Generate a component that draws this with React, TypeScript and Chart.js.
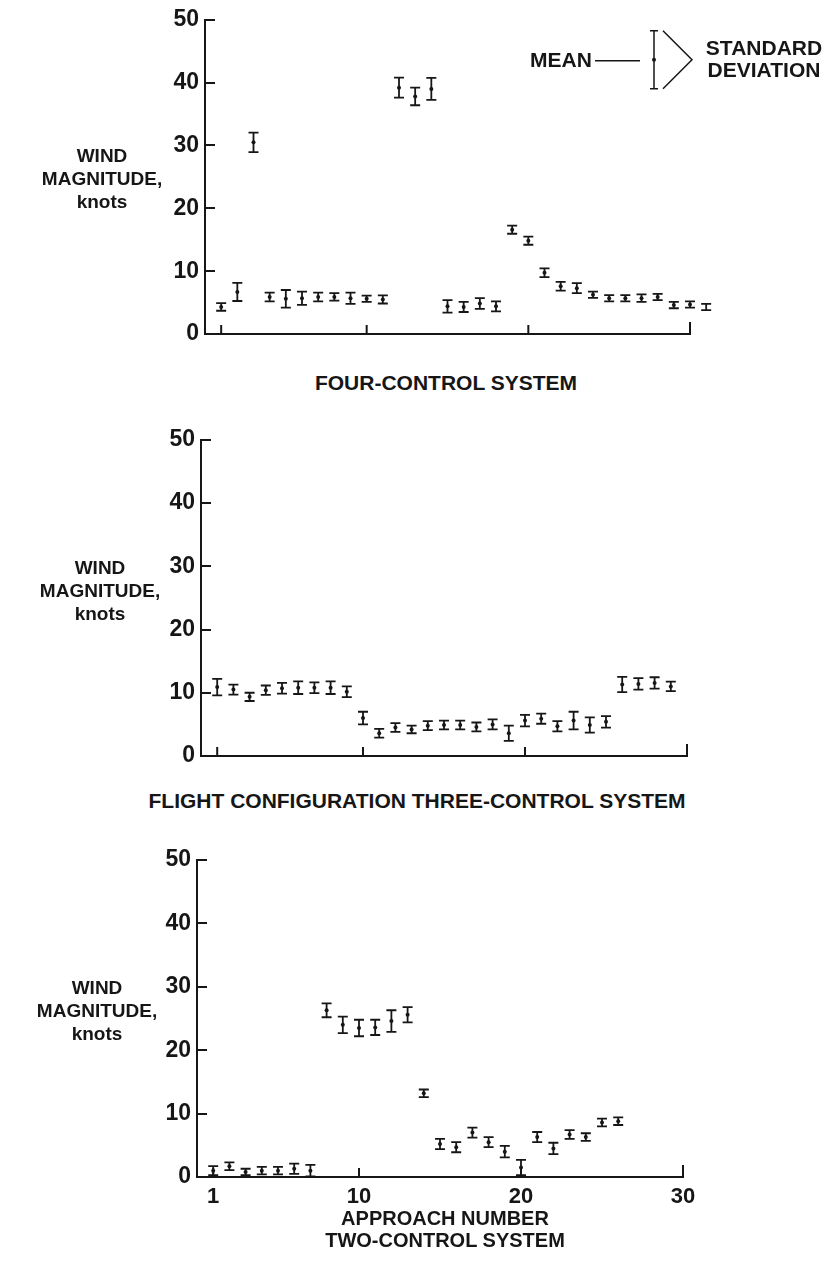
import React, { useEffect, useRef } from "react";
import { Chart, registerables } from "chart.js";

Chart.register(...registerables);

// ---------------- data ----------------
const fourApproach = [1,2,3,4,5,6,7,8,9,10,11,12,13,14,15,16,17,18,19,20,21,22,23,24,25,26,27,28,29,30,31];
const fourMean = [4.3,6.7,30.5,5.9,5.6,5.7,5.9,5.9,5.7,5.6,5.5,39.2,37.8,39.0,4.4,4.3,4.85,4.4,16.6,14.85,9.75,7.6,7.3,6.25,5.7,5.7,5.7,5.9,4.6,4.7,4.3];
const fourSd = [0.6,1.45,1.55,0.7,1.4,1.05,0.7,0.6,0.9,0.5,0.65,1.6,1.4,1.75,1.0,0.8,0.85,0.8,0.65,0.65,0.7,0.7,0.8,0.5,0.5,0.5,0.6,0.5,0.5,0.5,0.5];

const threeApproach = [1,2,3,4,5,6,7,8,9,10,11,12,13,14,15,16,17,18,19,20,21,22,23,24,25,26,27,28,29];
const threeMean = [10.9,10.5,9.35,10.4,10.7,10.8,10.8,10.8,10.15,6.0,3.6,4.5,4.2,4.8,4.9,4.9,4.6,5.0,3.6,5.6,5.9,4.7,5.6,4.9,5.4,11.3,11.4,11.55,11.0];
const threeSd = [1.3,0.8,0.65,0.75,0.85,1.0,0.85,1.0,0.85,1.0,0.7,0.7,0.6,0.7,0.7,0.7,0.7,0.8,1.2,0.9,0.8,0.8,1.4,1.2,0.9,1.2,0.9,0.9,0.75];

const twoApproach = [1,2,3,4,5,6,7,8,9,10,11,12,13,14,15,16,17,18,19,20,21,22,23,24,25,26];
const twoMean = [1.0,1.7,0.8,1.0,1.0,1.3,1.0,26.3,24.0,23.5,23.6,24.6,25.6,13.2,5.2,4.7,7.0,5.5,4.0,1.5,6.3,4.5,6.7,6.3,8.6,8.8];
const twoSd = [0.7,0.6,0.5,0.6,0.6,0.8,0.9,1.1,1.3,1.3,1.2,1.7,1.2,0.6,0.8,0.8,0.8,0.8,0.9,1.2,0.8,0.9,0.7,0.6,0.6,0.6];

const yTickValues = [0, 10, 20, 30, 40, 50];
const xTickValues = [1, 10, 20, 30];

const panelTitles = ["FOUR-CONTROL SYSTEM", "FLIGHT CONFIGURATION THREE-CONTROL SYSTEM", "TWO-CONTROL SYSTEM"];
const xAxisTitle = "APPROACH NUMBER";
const yAxisTitleLines = ["WIND", "MAGNITUDE,", "knots"];

// ---------------- styling ----------------
const INK = "#161616";
const FONT = "'Liberation Sans', Arial, Helvetica, sans-serif";
const W = 835;

type PanelSpec = {
  xs: number[];
  means: number[];
  sds: number[];
  top: number;
  height: number;
  areaLeft: number;
  areaRight: number;
  areaTop: number;
  areaBottom: number;
  showX: boolean;
  legend: boolean;
};

const errorBarPlugin = {
  id: "errorBars",
  afterDatasetsDraw(chart: any) {
    const ctx = chart.ctx;
    const xs = chart.scales.x;
    const ys = chart.scales.y;
    const area = chart.chartArea;
    const meta = chart.getDatasetMeta(0);
    const ds: any = chart.data.datasets[0];
    const sds: number[] = ds.sd;
    ctx.save();
    ctx.strokeStyle = INK;
    ctx.fillStyle = INK;
    ctx.lineWidth = 2;
    yTickValues.forEach((v) => {
      if (v === 0) return;
      const py = Math.round(ys.getPixelForValue(v));
      ctx.beginPath();
      ctx.moveTo(area.left, py);
      ctx.lineTo(area.left + 10, py);
      ctx.stroke();
    });
    xTickValues.forEach((v) => {
      const px = xs.getPixelForValue(v);
      ctx.beginPath();
      ctx.moveTo(px, area.bottom);
      ctx.lineTo(px, area.bottom - (v === 30 ? 12 : 9));
      ctx.stroke();
    });
    ctx.lineWidth = 1.8;
    meta.data.forEach((el: any, i: number) => {
      const raw = ds.data[i];
      const px = xs.getPixelForValue(raw.x);
      const hi = ys.getPixelForValue(raw.y + sds[i]);
      const lo = ys.getPixelForValue(raw.y - sds[i]);
      ctx.beginPath();
      ctx.moveTo(px, hi);
      ctx.lineTo(px, lo);
      ctx.moveTo(px - 5, hi);
      ctx.lineTo(px + 5, hi);
      ctx.moveTo(px - 5, lo);
      ctx.lineTo(px + 5, lo);
      ctx.stroke();
    });
    if (ds.legendGlyph) {
      const gx = area.right - 36;
      const cy = area.top + 40;
      ctx.lineWidth = 1.5;
      ctx.beginPath();
      ctx.moveTo(gx - 59, cy + 1);
      ctx.lineTo(gx - 14, cy + 1);
      ctx.moveTo(gx, cy - 29);
      ctx.lineTo(gx, cy + 29);
      ctx.moveTo(gx - 4, cy - 29);
      ctx.lineTo(gx + 4, cy - 29);
      ctx.moveTo(gx - 4, cy + 29);
      ctx.lineTo(gx + 4, cy + 29);
      ctx.moveTo(gx + 9, cy - 29);
      ctx.lineTo(gx + 38, cy);
      ctx.lineTo(gx + 9, cy + 29);
      ctx.stroke();
      ctx.beginPath();
      ctx.arc(gx, cy, 2, 0, Math.PI * 2);
      ctx.fill();
    }
    ctx.restore();
  },
};

function PanelChart({ spec }: { spec: PanelSpec }) {
  const ref = useRef<HTMLCanvasElement | null>(null);
  useEffect(() => {
    if (!ref.current) return;
    const canvasBottom = spec.top + spec.height;
    const chart = new Chart(ref.current, {
      type: "scatter",
      data: {
        datasets: [
          {
            data: spec.xs.map((x, i) => ({ x, y: spec.means[i] })),
            pointRadius: 2,
            pointBackgroundColor: INK,
            pointBorderWidth: 0,
            showLine: false,
            clip: false,
            sd: spec.sds,
            legendGlyph: spec.legend,
          } as any,
        ],
      },
      options: {
        animation: false,
        responsive: false,
        events: [],
        layout: {
          padding: {
            left: 0,
            right: W - spec.areaRight,
            top: spec.areaTop - spec.top,
            bottom: 0,
          },
        },
        plugins: { legend: { display: false }, tooltip: { enabled: false }, title: { display: false } },
        scales: {
          x: {
            type: "linear",
            min: 0,
            max: 30,
            afterBuildTicks: (s: any) => {
              s.ticks = xTickValues.map((v) => ({ value: v }));
            },
            afterFit: (s: any) => {
              s.height = canvasBottom - spec.areaBottom;
            },
            grid: { display: false, drawTicks: false },
            border: { display: true, color: INK, width: 2 },
            ticks: {
              display: spec.showX,
              autoSkip: false,
              maxRotation: 0,
              padding: 7,
              color: INK,
              font: { family: FONT, size: 22, weight: "bold" },
              callback: (v: any) => String(v),
            },
          },
          y: {
            type: "linear",
            min: 0,
            max: 50,
            afterBuildTicks: (s: any) => {
              s.ticks = yTickValues.map((v) => ({ value: v }));
            },
            afterFit: (s: any) => {
              s.width = spec.areaLeft;
            },
            grid: { display: false, drawTicks: false },
            border: { display: true, color: INK, width: 2 },
            ticks: {
              autoSkip: false,
              padding: 6,
              color: INK,
              font: { family: FONT, size: 23, weight: "bold" },
              callback: (v: any) => String(v),
            },
          },
        },
      } as any,
      plugins: [errorBarPlugin],
    });
    return () => chart.destroy();
  }, [spec]);
  return (
    <canvas
      ref={ref}
      width={W}
      height={spec.height}
      style={{ position: "absolute", left: 0, top: spec.top, width: W, height: spec.height }}
    />
  );
}

const panels: PanelSpec[] = [
  { xs: fourApproach, means: fourMean, sds: fourSd, top: 0, height: 360, areaLeft: 205, areaRight: 690, areaTop: 17, areaBottom: 334, showX: false, legend: true },
  { xs: threeApproach, means: threeMean, sds: threeSd, top: 420, height: 360, areaLeft: 201, areaRight: 687, areaTop: 439, areaBottom: 756, showX: false, legend: false },
  { xs: twoApproach, means: twoMean, sds: twoSd, top: 840, height: 380, areaLeft: 197, areaRight: 683, areaTop: 860, areaBottom: 1177, showX: true, legend: false },
];

function Label({ text, cx, cy, size, weight = "bold" }: { text: string; cx: number; cy: number; size: number; weight?: string }) {
  return (
    <div
      style={{
        position: "absolute",
        left: cx,
        top: cy,
        transform: "translate(-50%, -50%)",
        whiteSpace: "nowrap",
        fontFamily: FONT,
        fontWeight: weight as any,
        fontSize: size,
        color: INK,
        lineHeight: 1,
      }}
    >
      {text}
    </div>
  );
}

export default function App() {
  const yLabelCenters = [
    { cx: 102, cy: 178 },
    { cx: 100, cy: 590 },
    { cx: 97, cy: 1010 },
  ];
  return (
    <div style={{ position: "absolute", left: 0, top: 0, width: W, height: 1263, background: "#fff", overflow: "hidden" }}>
      {panels.map((p, i) => (
        <PanelChart key={i} spec={p} />
      ))}
      {yLabelCenters.map((c, i) => (
        <React.Fragment key={i}>
          <Label text={yAxisTitleLines[0]} cx={c.cx} cy={c.cy - 23} size={19} />
          <Label text={yAxisTitleLines[1]} cx={c.cx} cy={c.cy} size={19} />
          <Label text={yAxisTitleLines[2]} cx={c.cx} cy={c.cy + 23} size={19} />
        </React.Fragment>
      ))}
      <Label text={panelTitles[0]} cx={446} cy={382} size={21} />
      <Label text={panelTitles[1]} cx={417} cy={800} size={21} />
      <Label text={xAxisTitle} cx={445} cy={1218} size={20} />
      <Label text={panelTitles[2]} cx={445} cy={1240} size={20} />
      <Label text="MEAN" cx={561} cy={59} size={21} />
      <Label text="STANDARD" cx={764} cy={47} size={21} />
      <Label text="DEVIATION" cx={764} cy={69} size={21} />
    </div>
  );
}
